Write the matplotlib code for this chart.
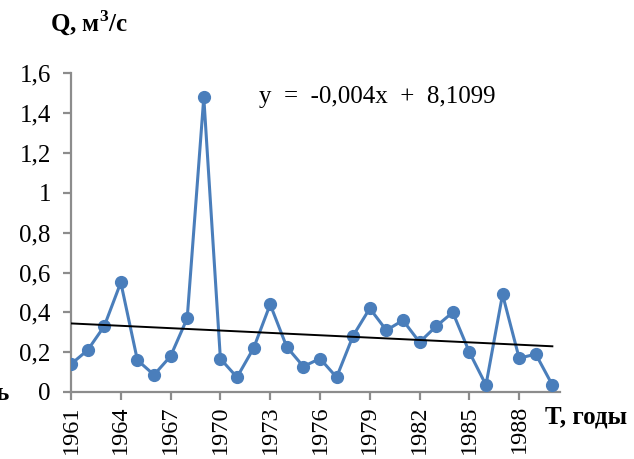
import numpy as np
import matplotlib
matplotlib.use('Agg')
import matplotlib.pyplot as plt

# Annual discharge series
years = list(range(1961, 1991))
q = [0.14, 0.21, 0.33, 0.55, 0.16, 0.086, 0.18, 0.37, 1.48, 0.167,
     0.074, 0.22, 0.44, 0.226, 0.128, 0.168, 0.074, 0.283, 0.42, 0.31,
     0.36, 0.25, 0.33, 0.40, 0.20, 0.035, 0.49, 0.17, 0.19, 0.035]

# Linear trend y = a*x + b
trend_a = -0.00396
trend_b = 8.1099

tick_years = list(range(1961, 1990, 3))
y_ticks = [0, 0.2, 0.4, 0.6, 0.8, 1.0, 1.2, 1.4, 1.6]
y_labels = ['0', '0,2', '0,4', '0,6', '0,8', '1', '1,2', '1,4', '1,6']

plt.rcParams['font.family'] = ['Liberation Serif', 'DejaVu Serif']
plt.rcParams['mathtext.fontset'] = 'custom'
plt.rcParams['mathtext.rm'] = 'Liberation Serif'
plt.rcParams['mathtext.bf'] = 'Liberation Serif:bold'

FS = 18

fig = plt.figure(figsize=(6.34, 4.59), dpi=100)
ax = fig.add_axes([0.112, 0.146, 0.771, 0.694])

ax.plot(years, q, color='#4A7EBB', lw=2.2, marker='o', ms=8.5, zorder=3)

tx = np.array([years[0], years[-1]])
ax.plot(tx, trend_a * tx + trend_b, color='black', lw=1.4, zorder=4)

ax.set_xlim(1961, 1990.45)
ax.set_ylim(0, 1.6)
ax.set_xticks(tick_years)
ax.set_xticklabels([str(y) for y in tick_years], rotation=90, fontsize=FS - 0.5)
ax.set_yticks(y_ticks)
ax.set_yticklabels(y_labels, fontsize=FS)

for side in ('top', 'right'):
    ax.spines[side].set_visible(False)
for side in ('left', 'bottom'):
    ax.spines[side].set_color('#8c8c8c')
    ax.spines[side].set_linewidth(1.6)
ax.tick_params(axis='both', color='#8c8c8c', width=1.6, length=5.5)
ax.tick_params(axis='y', pad=9)
ax.tick_params(axis='x', pad=4)

ax.text(0.385, 0.926, 'y  =  -0,004x  +  8,1099', transform=ax.transAxes,
        fontsize=FS, va='center', ha='left')

fig.text(0.079, 0.948, r'Q, м$^{\mathbf{3}}$/с', fontsize=FS,
         fontweight='bold', va='center', ha='left')
fig.text(0.859, 0.092, 'T, годы', fontsize=FS, fontweight='bold',
         va='center', ha='left')
fig.text(-0.008, 0.142, 'ь', fontsize=FS, fontweight='bold',
         va='center', ha='left')

fig.savefig('out.png', dpi=100)
